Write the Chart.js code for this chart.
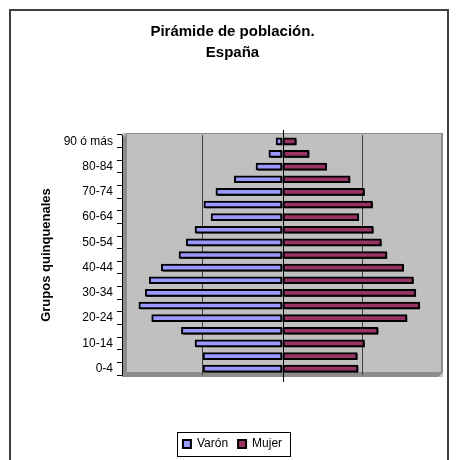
<!DOCTYPE html>
<html>
<head>
<meta charset="utf-8">
<script src="https://cdn.jsdelivr.net/npm/chart.js@4/dist/chart.umd.min.js"></script>
<style>
  html, body { margin: 0; padding: 0; background: #fff; overflow: hidden; width: 456px; height: 460px; }
  #frame { position: absolute; left: 9px; top: 9px; width: 440px; height: 500px; box-sizing: border-box; border: 2px solid #404040; }
  #c { position: absolute; left: 16px; top: 0; }
</style>
</head>
<body>
<div id="frame"></div>
<canvas id="c" width="440" height="460"></canvas>
<script>
// ---- Data ----
const categorias = ['0-4','5-9','10-14','15-19','20-24','25-29','30-34','35-39','40-44','45-49',
                    '50-54','55-59','60-64','65-69','70-74','75-79','80-84','85-89','90 ó más'];
const varon = [-990000, -990000, -1090000, -1260000, -1630000, -1790000, -1710000, -1660000, -1510000, -1290000,
               -1200000, -1090000, -890000, -980000, -830000, -600000, -330000, -170000, -80000];
const mujer = [940000, 930000, 1020000, 1190000, 1550000, 1710000, 1660000, 1630000, 1510000, 1300000,
               1230000, 1130000, 950000, 1120000, 1020000, 840000, 550000, 330000, 170000];
const serieNombres = ['Varón', 'Mujer'];
const tituloLineas = ['Pirámide de población.', 'España'];
const tituloEje = 'Grupos quinquenales';

const FONT = "'Liberation Sans', Arial, sans-serif";

const wallPlugin = {
  id: 'wall',
  beforeDraw(chart) {
    const {ctx, chartArea: a} = chart;
    ctx.save();
    // back wall
    ctx.fillStyle = '#C0C0C0';
    ctx.fillRect(a.left, a.top - 2, a.right - a.left, a.bottom - a.top + 4);
    // side wall (left)
    ctx.fillStyle = '#8C8C8C';
    ctx.beginPath();
    ctx.moveTo(a.left, a.top + 4);
    ctx.lineTo(a.left + 5, a.top - 2);
    ctx.lineTo(a.left + 5, a.bottom - 3);
    ctx.lineTo(a.left, a.bottom + 2);
    ctx.closePath();
    ctx.fill();
    // floor
    ctx.beginPath();
    ctx.moveTo(a.left, a.bottom + 2);
    ctx.lineTo(a.left + 5, a.bottom - 3);
    ctx.lineTo(a.right, a.bottom - 3);
    ctx.lineTo(a.right - 5, a.bottom + 2);
    ctx.closePath();
    ctx.fill();
    // right edge & top edge
    ctx.fillStyle = '#8C8C8C';
    ctx.fillRect(a.right - 2, a.top - 2, 2, a.bottom - a.top);
    ctx.fillRect(a.left + 5, a.top - 2, a.right - a.left - 5, 1);
    ctx.restore();
  },
  beforeDatasetsDraw(chart) {
    const ctx = chart.ctx;
    ctx.save();
    ctx.shadowColor = '#000';
    ctx.shadowOffsetX = 2;
    ctx.shadowOffsetY = 1;
    ctx.shadowBlur = 0;
  },
  afterDatasetsDraw(chart) {
    const ctx = chart.ctx;
    ctx.restore();
    const a = chart.chartArea;
    const x0 = Math.round(chart.scales.x.getPixelForValue(0)) + 0.5;
    ctx.save();
    ctx.strokeStyle = '#000';
    ctx.lineWidth = 1;
    ctx.beginPath();
    ctx.moveTo(x0, a.top - 5);
    ctx.lineTo(x0, a.bottom + 7);
    ctx.stroke();
    ctx.restore();
  },
  afterDraw(chart) {
    const lg = chart.legend;
    if (!lg || !lg.legendHitBoxes || !lg.legendHitBoxes.length) return;
    const hb = lg.legendHitBoxes;
    let l = Infinity, r = -Infinity, t = Infinity, b = -Infinity;
    hb.forEach(h => { l = Math.min(l, h.left); r = Math.max(r, h.left + h.width); t = Math.min(t, h.top); b = Math.max(b, h.top + h.height); });
    const ctx = chart.ctx;
    ctx.save();
    ctx.strokeStyle = '#000';
    ctx.lineWidth = 1;
    const cy = (t + b) / 2;
    ctx.strokeRect(Math.round(l - 6) + 0.5, Math.round(cy - 12) + 0.5, Math.round(r - l + 14), 24);
    ctx.restore();
  }
};

new Chart(document.getElementById('c'), {
  type: 'bar',
  data: {
    labels: categorias,
    datasets: [
      { label: serieNombres[0], data: varon, backgroundColor: '#9999FF', borderColor: '#000', borderWidth: 2, borderSkipped: false, barThickness: 7 },
      { label: serieNombres[1], data: mujer, backgroundColor: '#993366', borderColor: '#000', borderWidth: 2, borderSkipped: false, barThickness: 7 }
    ]
  },
  options: {
    indexAxis: 'y',
    responsive: false,
    animation: false,
    devicePixelRatio: 1,
    layout: { padding: { left: 6, right: 13, top: 0, bottom: 0 } },
    plugins: {
      tooltip: { enabled: false },
      title: {
        display: true,
        text: tituloLineas,
        color: '#000',
        font: { family: FONT, size: 15, weight: 'bold', lineHeight: 1.4 },
        padding: { top: 21.5, bottom: 71.5 }
      },
      legend: {
        position: 'bottom',
        labels: {
          color: '#000',
          font: { family: FONT, size: 12 },
          boxWidth: 8,
          boxHeight: 8,
          padding: 10
        }
      }
    },
    scales: {
      x: {
        stacked: true,
        min: -2000000,
        max: 2000000,
        ticks: { display: false, stepSize: 1000000 },
        grid: {
          drawTicks: false,
          color: (c) => (c.tick && Math.abs(c.tick.value) === 1000000) ? '#404040' : 'rgba(0,0,0,0)',
          lineWidth: 1
        },
        border: { display: false },
        afterFit: (s) => { s.height = 53; }
      },
      y: {
        stacked: true,
        reverse: true,
        ticks: {
          autoSkip: false,
          color: '#000',
          font: { family: FONT, size: 12 },
          padding: 4,
          callback: function (v, i) { return i % 2 === 0 ? this.getLabelForValue(v) : ''; }
        },
        grid: { drawOnChartArea: false, drawTicks: true, tickLength: 5, color: '#000', offset: true },
        border: { display: true, color: '#000', width: 1 },
        title: {
          display: true,
          text: tituloEje,
          color: '#000',
          font: { family: FONT, size: 13, weight: 'bold' },
          padding: { top: 17, bottom: 0 }
        },
        afterFit: (s) => { s.width = 100; }
      }
    }
  },
  plugins: [wallPlugin]
});
</script>
</body>
</html>
